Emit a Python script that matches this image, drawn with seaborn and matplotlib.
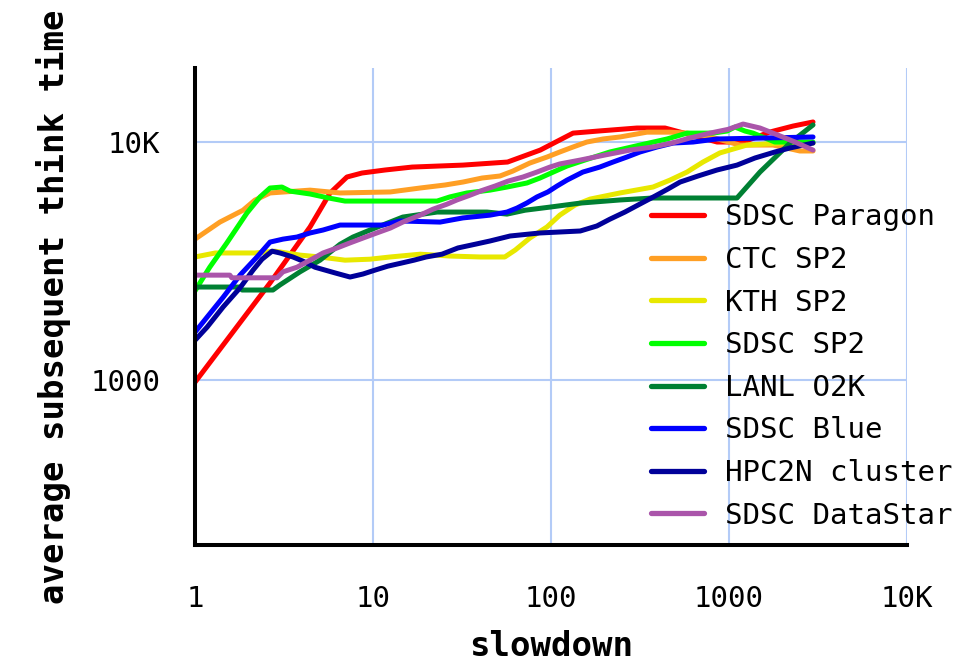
import numpy as np
import pandas as pd
import matplotlib
matplotlib.use("Agg")
import matplotlib.pyplot as plt
from matplotlib.ticker import FixedLocator, NullLocator
import seaborn as sns

# ---------------- data ----------------
systems = ["SDSC Paragon", "CTC SP2", "KTH SP2", "SDSC SP2", "LANL O2K",
           "SDSC Blue", "HPC2N cluster", "SDSC DataStar"]
colors = ["#ff0000", "#ff9f24", "#e8e800", "#00ff00", "#008033",
          "#0000ff", "#000099", "#aa55aa"]

paragon_x = [1, 2.64, 4.43, 5.73, 7.14, 8.67, 11.7, 16.6, 32, 57, 87, 133, 184, 304, 437, 510, 857, 1200, 1700, 2290, 2965]
paragon_y = [980, 2560, 4400, 6100, 7130, 7410, 7630, 7850, 8000, 8240, 9250, 10900, 11120, 11450, 11450, 11100, 10000, 10000, 11020, 11670, 12140]

ctc_x = [1, 1.38, 1.86, 2.17, 2.64, 4.43, 6.53, 12.5, 18.4, 25.4, 32, 41, 51.7, 61, 76, 95, 112, 133, 159, 196, 244, 346, 466, 581, 752, 1150, 1770, 2500, 2965]
ctc_y = [3910, 4610, 5170, 5700, 6110, 6280, 6110, 6170, 6410, 6600, 6790, 7060, 7200, 7550, 8160, 8650, 9080, 9530, 10000, 10300, 10500, 11000, 11000, 10900, 10600, 9710, 9710, 9170, 9170]

kth_x = [1, 1.30, 2.17, 2.81, 3.89, 5.04, 6.96, 9.6, 12.5, 18.4, 27, 40, 55, 63, 76, 95, 112, 136, 166, 244, 374, 466, 581, 714, 889, 1260, 1940, 2965]
kth_y = [3290, 3420, 3420, 3480, 3350, 3290, 3190, 3220, 3290, 3380, 3320, 3290, 3290, 3520, 3950, 4400, 4930, 5430, 5760, 6110, 6470, 6920, 7480, 8240, 9000, 9710, 9900, 9900]

sp2_x = [1, 1.09, 1.21, 1.51, 1.96, 2.32, 2.64, 3.08, 3.42, 4.43, 5.63, 6.96, 22.9, 27, 33.7, 45.4, 56.6, 73.3, 86.7, 103, 123, 155, 214, 316, 449, 581, 813, 975, 1081, 1230, 1365, 1810, 2965]
sp2_y = [2370, 2630, 2980, 3770, 5040, 5880, 6410, 6470, 6220, 6050, 5820, 5650, 5650, 5880, 6110, 6280, 6470, 6730, 7060, 7480, 7930, 8400, 9080, 9710, 10300, 10900, 10900, 11120, 11560, 11120, 10900, 10000, 10000]

lanl_x = [1, 1.79, 1.84, 2.74, 3.0, 3.89, 5.04, 6.53, 7.72, 9.62, 14.7, 22.9, 43.7, 56.6, 71.4, 98.7, 146, 244, 374, 1109, 1493, 2200, 2965]
lanl_y = [2460, 2460, 2390, 2390, 2510, 2850, 3190, 3720, 3990, 4270, 4840, 5080, 5080, 4980, 5170, 5330, 5540, 5710, 5820, 5820, 7480, 9900, 11800]

blue_x = [1, 1.17, 1.44, 1.79, 2.23, 2.64, 3.12, 3.74, 4.43, 5.24, 6.53, 11.4, 14.2, 23.8, 32, 45.4, 56.6, 64.4, 73.3, 83.4, 96, 108, 123, 151, 188, 223, 267, 316, 394, 485, 628, 857, 1630, 2965]
blue_y = [1590, 1840, 2230, 2760, 3290, 3800, 3910, 3990, 4150, 4270, 4480, 4480, 4660, 4610, 4800, 4930, 5080, 5280, 5550, 5880, 6170, 6530, 6920, 7480, 7850, 8240, 8650, 9080, 9530, 9900, 10000, 10300, 10400, 10500]

hpc_x = [1, 1.17, 1.44, 1.79, 2.12, 2.38, 2.71, 3.0, 3.55, 4.04, 4.72, 6.12, 7.43, 8.78, 10.3, 12.1, 14.4, 17.0, 19.9, 24.4, 30, 37.4, 45.4, 58.9, 86.7, 146, 181, 214, 260, 316, 384, 454, 531, 670, 857, 1109, 1400, 1810, 2200, 2965]
hpc_y = [1470, 1670, 2030, 2440, 2900, 3220, 3480, 3420, 3290, 3160, 2980, 2820, 2710, 2790, 2900, 3010, 3100, 3190, 3290, 3380, 3590, 3720, 3840, 4030, 4150, 4230, 4440, 4740, 5080, 5490, 5930, 6350, 6790, 7200, 7630, 8000, 8570, 9080, 9440, 9900]

ds_x = [1, 1.57, 1.61, 2.89, 3.12, 3.74, 4.43, 5.24, 6.28, 7.43, 8.78, 10.5, 12.5, 14.7, 18.4, 21.7, 26, 29.6, 35.1, 41.5, 48.4, 57.3, 69.6, 83.4, 98.7, 112, 146, 201, 278, 374, 478, 604, 782, 987, 1200, 1493, 1880, 2350, 2965]
ds_y = [2760, 2760, 2690, 2690, 2850, 2980, 3190, 3420, 3590, 3770, 3950, 4150, 4350, 4610, 4930, 5220, 5480, 5710, 5980, 6280, 6530, 6850, 7130, 7480, 7850, 8090, 8400, 8820, 9250, 9530, 9900, 10400, 10900, 11300, 11900, 11450, 10700, 10000, 9250]

x_ticks = [1, 10, 100, 1000, 10000]
x_tick_labels = ["1", "10", "100", "1000", "10K"]
y_ticks = [1000, 10000]
y_tick_labels = ["1000", "10K"]

series_x = [paragon_x, ctc_x, kth_x, sp2_x, lanl_x, blue_x, hpc_x, ds_x]
series_y = [paragon_y, ctc_y, kth_y, sp2_y, lanl_y, blue_y, hpc_y, ds_y]

frames = []
for name, xs, ys in zip(systems, series_x, series_y):
    frames.append(pd.DataFrame({"slowdown": xs, "think": ys, "system": name}))
df = pd.concat(frames, ignore_index=True)

# ---------------- plot ----------------
sns.set_style("white")
plt.rcParams["font.family"] = ["DejaVu Sans Mono", "DejaVu Sans"]
plt.rcParams["text.color"] = "black"
plt.rcParams["axes.labelcolor"] = "black"

fig = plt.figure(figsize=(9.69, 6.62), dpi=100)
ax = fig.add_axes([195 / 969, 1 - 545 / 662, (907 - 195) / 969, (545 - 68) / 662])

sns.lineplot(data=df, x="slowdown", y="think", hue="system", hue_order=systems,
             palette=dict(zip(systems, colors)), sort=False, estimator=None,
             linewidth=3.6, ax=ax, zorder=3)

ax.set_xscale("log")
ax.set_yscale("log")
ax.set_xlim(1, 10000)
ax.set_ylim(203, 20460)

ax.xaxis.set_major_locator(FixedLocator(x_ticks))
ax.yaxis.set_major_locator(FixedLocator(y_ticks))
ax.xaxis.set_minor_locator(NullLocator())
ax.yaxis.set_minor_locator(NullLocator())
ax.set_xticklabels(x_tick_labels)
ax.set_yticklabels(y_tick_labels)

ax.grid(True, which="major", color="#b3cbf7", linewidth=1.5, zorder=0)
ax.set_axisbelow(True)

for s in ["top", "right"]:
    ax.spines[s].set_visible(False)
for s in ["left", "bottom"]:
    ax.spines[s].set_color("black")
    ax.spines[s].set_linewidth(2.9)
    ax.spines[s].set_zorder(5)

ax.tick_params(axis="both", which="major", direction="out", length=13,
               width=2.2, color="black", labelsize=21, labelcolor="black")
ax.tick_params(axis="x", pad=16)
ax.tick_params(axis="y", pad=12)

ax.set_xlabel("slowdown", fontsize=24.5, fontweight="bold", labelpad=12,
              color="black")
ax.set_ylabel("average subsequent think time", fontsize=24.5, fontweight="bold",
              labelpad=14, color="black")

handles, labels = ax.get_legend_handles_labels()
leg = ax.legend(handles, labels, loc="center left",
                bbox_to_anchor=(651 / 969, 1 - 366.5 / 662),
                bbox_transform=fig.transFigure, frameon=False, fontsize=21,
                handlelength=1.83, handletextpad=0.72, labelspacing=0.5,
                borderpad=0, borderaxespad=0, labelcolor="black")
for line in leg.get_lines():
    line.set_linewidth(3.8)

fig.savefig("out.png", dpi=100)
